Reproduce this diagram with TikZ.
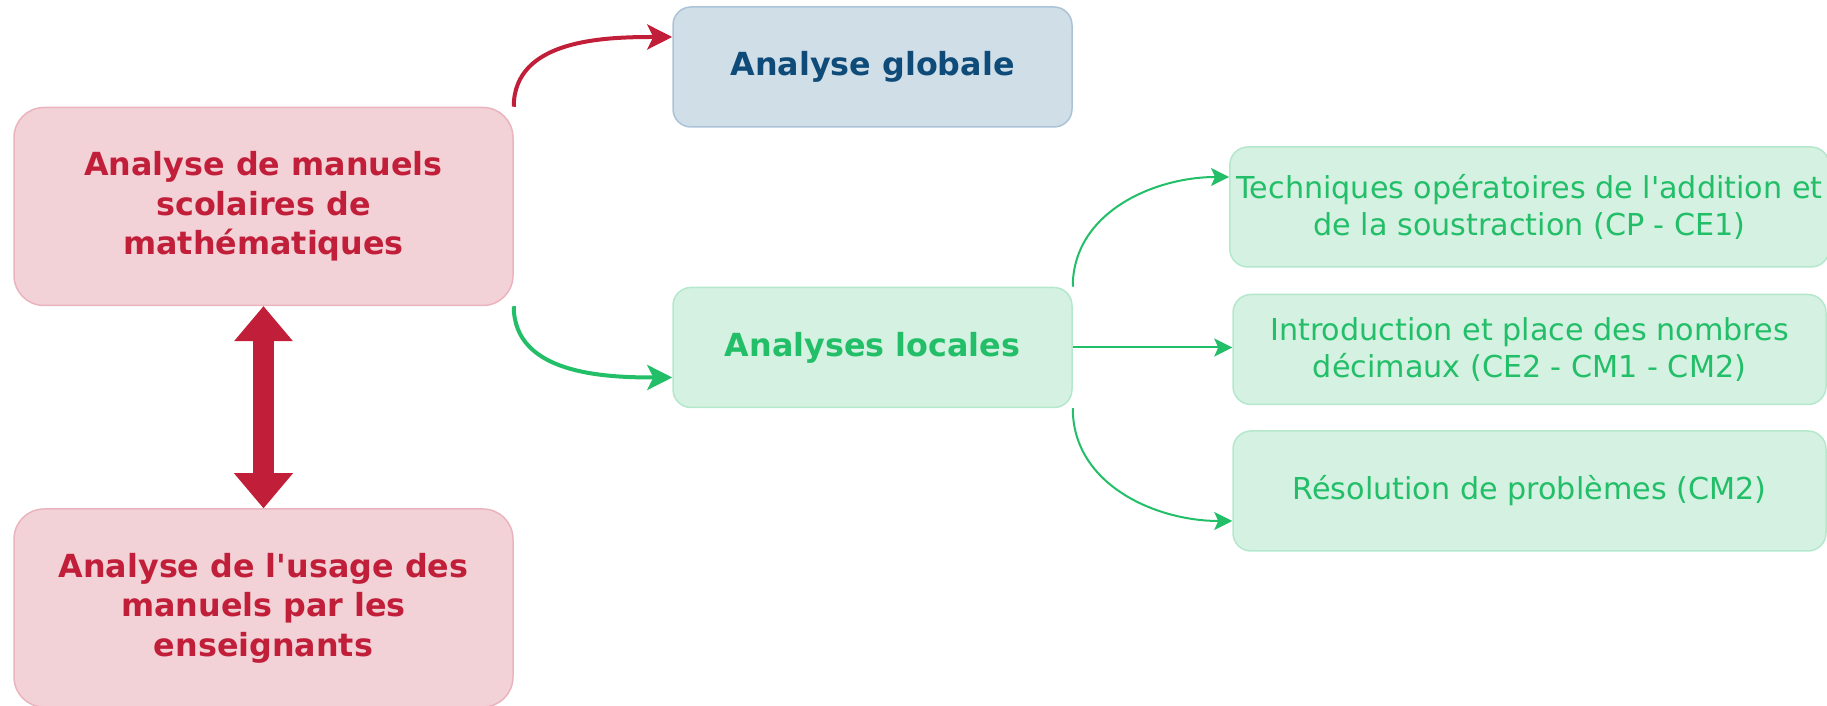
\documentclass[tikz,border=0pt]{standalone}
\usepackage{fontspec}
\setmainfont{DejaVu Sans}
\usepackage{xcolor}
\usetikzlibrary{positioning,arrows.meta}
\definecolor{red-text}{RGB}{193,31,57}
\definecolor{red-fill}{RGB}{242,209,215}
\definecolor{red-line}{RGB}{234,180,190}
\definecolor{blue-text}{RGB}{14,75,120}
\definecolor{blue-fill}{RGB}{208,222,232}
\definecolor{blue-line}{RGB}{170,195,215}
\definecolor{green-text}{RGB}{34,190,104}
\definecolor{green-fill}{RGB}{212,241,225}
\definecolor{green-line}{RGB}{180,232,204}
\tikzset{
    red-box/.style = {draw=red-line, fill=red-fill, text=red-text, line width=0.75pt, rectangle, rounded corners=15pt, minimum width=249.5pt, minimum height=99pt, align=center, font=\fontsize{15.9}{19.8}\selectfont\bfseries},
    step-box/.style = {line width=0.75pt, rectangle, rounded corners=9pt, minimum width=199.5pt, minimum height=60pt, align=center, font=\fontsize{15.9}{19.8}\selectfont\bfseries},
    topic-box/.style = {draw=green-line, fill=green-fill, text=green-text, line width=0.75pt, rectangle, rounded corners=9pt, minimum width=296.5pt, minimum height=60pt, align=center, font=\fontsize{15.1}{18.6}\selectfont},
    red-link/.style = {draw=red-text, line width=2pt, -{Stealth[length=12.5pt, width=12.5pt, inset=3pt]}},
    green-link/.style = {draw=green-text, line width=2pt, -{Stealth[length=12.5pt, width=12.5pt, inset=3pt]}},
    thin-link/.style = {draw=green-text, line width=1pt, -{Stealth[length=9pt, width=9pt, inset=2pt]}},
}
\begin{document}
\begin{tikzpicture}[x=0.5pt, y=0.5pt]
\useasboundingbox (0,0) rectangle (1827,706);
% left column
\node[red-box] (manuels) at (263.5,499.5) {Analyse de manuels\\scolaires de\\mathématiques};
\node[red-box, below=101pt of manuels] (usage) {Analyse de l\textquotesingle usage des\\manuels par les\\enseignants};
% middle column
\node[step-box, draw=blue-line, fill=blue-fill, text=blue-text] (globale) at (872.5,639) {Analyse globale};
\node[step-box, draw=green-line, fill=green-fill, text=green-text] (locales) at (872.5,358.5) {Analyses locales};
% right column
\node[topic-box] (techniques) at (1529.5,499) {Techniques opératoires de l\textquotesingle addition et\\de la soustraction (CP - CE1)};
\node[topic-box, minimum height=55pt, below=13pt of techniques] (decimaux) {Introduction et place des nombres\\décimaux (CE2 - CM1 - CM2)};
\node[topic-box, below=12.5pt of decimaux] (problemes) {Résolution de problèmes (CM2)};

\draw[draw=red-text, line width=10.5pt, {Triangle[length=17.5pt, width=29.5pt, line width=0pt]}-{Triangle[length=17.5pt, width=29.5pt, line width=0pt]}] (manuels) -- (usage);
\draw[red-link] (manuels.north east) to[out=90, in=180] ([yshift=15pt]globale.west);
\draw[green-link] (manuels.south east) to[out=-90, in=180] ([yshift=-15pt]locales.west);
\draw[thin-link] (locales.north east) to[out=90, in=180] ([yshift=15pt]techniques.west);
\draw[thin-link] (locales.east) -- (locales.east -| decimaux.west);
\draw[thin-link] (locales.south east) to[out=-90, in=180] ([yshift=-15pt]problemes.west);
\end{tikzpicture}
\end{document}
